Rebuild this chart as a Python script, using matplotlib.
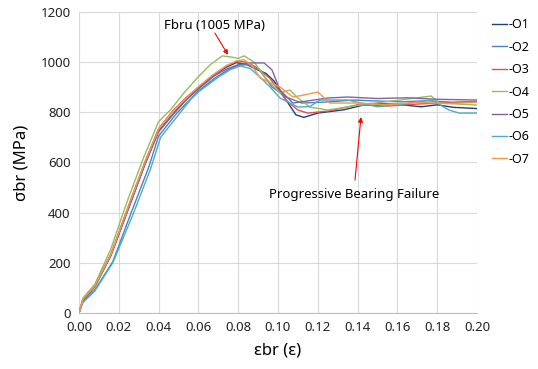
import numpy as np
import matplotlib.pyplot as plt

plt.rcParams['font.family'] = ['Noto Sans', 'DejaVu Sans']

# Bearing stress-strain curves, specimens O1..O7
labels = ['-O1', '-O2', '-O3', '-O4', '-O5', '-O6', '-O7']
colors = ['#1F3E7A', '#4F81BD', '#D9534F', '#9BBB59', '#8064A2', '#4BACC6', '#F79646']

x_o1 = [0, 0.002, 0.008, 0.016, 0.025, 0.033, 0.040, 0.048, 0.054, 0.060, 0.067, 0.074, 0.079, 0.084,
        0.089, 0.094, 0.098, 0.104, 0.109, 0.113, 0.120, 0.133, 0.146, 0.160, 0.172, 0.180, 0.188, 0.200]
y_o1 = [0, 50, 105, 228, 420, 590, 725, 800, 852, 895, 945, 980, 998, 992,
        972, 955, 925, 850, 790, 780, 797, 810, 835, 832, 822, 830, 820, 815]

x_o2 = [0, 0.002, 0.008, 0.017, 0.026, 0.035, 0.040, 0.049, 0.055, 0.060, 0.068, 0.075, 0.080, 0.085,
        0.091, 0.097, 0.104, 0.112, 0.124, 0.138, 0.150, 0.162, 0.175, 0.188, 0.200]
y_o2 = [0, 45, 92, 205, 395, 580, 705, 795, 845, 885, 935, 970, 988, 990,
        965, 901, 861, 837, 841, 849, 845, 842, 846, 840, 843]

x_o3 = [0, 0.002, 0.008, 0.016, 0.025, 0.033, 0.040, 0.047, 0.054, 0.060, 0.067, 0.074, 0.080, 0.085,
        0.090, 0.096, 0.104, 0.110, 0.115, 0.125, 0.140, 0.155, 0.170, 0.185, 0.200]
y_o3 = [0, 55, 110, 235, 430, 600, 735, 805, 860, 900, 945, 985, 1005, 998,
        975, 935, 849, 809, 797, 805, 830, 825, 833, 838, 843]

x_o4 = [0, 0.002, 0.008, 0.016, 0.024, 0.032, 0.040, 0.046, 0.053, 0.060, 0.066, 0.072, 0.077, 0.080,
        0.083, 0.088, 0.094, 0.101, 0.106, 0.110, 0.116, 0.125, 0.141, 0.160, 0.177, 0.181, 0.200]
y_o4 = [0, 60, 115, 255, 440, 610, 763, 810, 880, 942, 990, 1025, 1020, 1015,
        1025, 1000, 935, 877, 889, 857, 821, 809, 829, 848, 865, 837, 829]

x_o5 = [0, 0.002, 0.008, 0.016, 0.025, 0.033, 0.040, 0.048, 0.054, 0.060, 0.068, 0.074, 0.080, 0.086,
        0.093, 0.097, 0.101, 0.1075, 0.118, 0.125, 0.135, 0.150, 0.165, 0.180, 0.200]
y_o5 = [0, 52, 105, 230, 418, 590, 722, 798, 850, 893, 945, 972, 990, 997,
        997, 969, 889, 837, 849, 857, 861, 855, 858, 852, 849]

x_o6 = [0, 0.002, 0.008, 0.017, 0.027, 0.036, 0.041, 0.051, 0.056, 0.060, 0.070, 0.076, 0.081, 0.086,
        0.091, 0.096, 0.101, 0.110, 0.116, 0.121, 0.135, 0.150, 0.165, 0.177, 0.186, 0.191, 0.200]
y_o6 = [0, 42, 88, 200, 390, 575, 700, 800, 850, 881, 940, 970, 985, 975,
        940, 901, 857, 821, 823, 849, 849, 822, 835, 850, 809, 797, 797]

x_o7 = [0, 0.002, 0.008, 0.016, 0.025, 0.033, 0.040, 0.047, 0.054, 0.060, 0.067, 0.074, 0.079, 0.083,
        0.087, 0.091, 0.101, 0.1075, 0.113, 0.120, 0.126, 0.141, 0.155, 0.170, 0.185, 0.200]
y_o7 = [0, 55, 108, 232, 428, 598, 732, 802, 858, 902, 948, 985, 1005, 1010,
        985, 937, 901, 861, 869, 881, 837, 837, 830, 840, 835, 840]

xs = [x_o1, x_o2, x_o3, x_o4, x_o5, x_o6, x_o7]
ys = [y_o1, y_o2, y_o3, y_o4, y_o5, y_o6, y_o7]

fig = plt.figure(figsize=(5.38, 3.69), dpi=100)
ax = fig.add_axes([0.1468, 0.1518, 0.7398, 0.8157])

for x, y, c, lab in zip(xs, ys, colors, labels):
    ax.plot(x, y, color=c, lw=1.0, label=lab)

ax.set_xlim(0, 0.2)
ax.set_ylim(0, 1200)
ax.set_xticks(np.arange(0, 0.201, 0.02))
ax.set_yticks(np.arange(0, 1201, 200))
ax.set_xticklabels(['%.2f' % v for v in np.arange(0, 0.201, 0.02)])
ax.grid(True, color='#D9D9D9', lw=0.8)
ax.set_axisbelow(True)
for s in ['top', 'right', 'left']:
    ax.spines[s].set_visible(False)
ax.spines['bottom'].set_color('#BFBFBF')
ax.tick_params(length=0, labelsize=9.5, colors='#222222', pad=6)

ax.set_xlabel('εbr (ε)', fontsize=12, labelpad=6)
ax.set_ylabel('σbr (MPa)', fontsize=12, labelpad=8)

# annotations
arrow = dict(arrowstyle='-|>', color='red', lw=0.8, mutation_scale=7, shrinkA=0, shrinkB=0)
ax.text(0.0683, 1148, 'Fbru (1005 MPa)', ha='center', va='center', fontsize=9.5)
ax.annotate('', xy=(0.0749, 1029), xytext=(0.0683, 1116), arrowprops=arrow)
ax.text(0.1385, 474, 'Progressive Bearing Failure', ha='center', va='center', fontsize=9.5)
ax.annotate('', xy=(0.1417, 781), xytext=(0.1387, 530), arrowprops=arrow)

fig.legend(loc='upper left', bbox_to_anchor=(0.9145, 0.95), frameon=False,
           fontsize=9, handlelength=1.2, handletextpad=0.15, labelspacing=0.75,
           borderpad=0, borderaxespad=0)

fig.savefig('out.png', dpi=100)
